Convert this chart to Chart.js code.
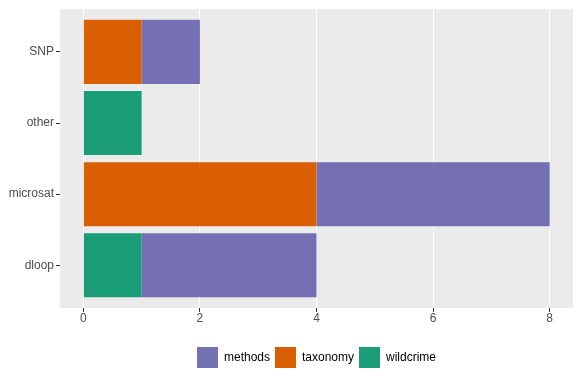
<!DOCTYPE html>
<html>
<head>
<meta charset="utf-8">
<script src="https://cdn.jsdelivr.net/npm/chart.js@4"></script>
<style>
  html, body { margin: 0; padding: 0; background: #ffffff; }
  #wrap { width: 580px; height: 384px; }
</style>
</head>
<body>
<div id="wrap"><canvas id="chart"></canvas></div>
<script>
// categories bottom to top (y = 1..4)
const categories = ["dloop", "microsat", "other", "SNP"];
const methods = [3, 4, 0, 1];
const taxonomy = [0, 4, 0, 1];
const wildcrime = [1, 0, 1, 0];
const xTicks = [0, 2, 4, 6, 8];

const toPoints = (arr) => arr.map((v, i) => ({ x: v, y: i + 1 }));

// grey panel like ggplot
const panelBg = {
  id: "panelBg",
  beforeDraw(chart) {
    const { ctx, chartArea: a } = chart;
    ctx.save();
    ctx.fillStyle = "#EBEBEB";
    ctx.fillRect(a.left, a.top, a.right - a.left, a.bottom - a.top);
    ctx.restore();
  }
};

new Chart(document.getElementById("chart"), {
  type: "bar",
  data: {
    datasets: [
      { label: "wildcrime", data: toPoints(wildcrime), backgroundColor: "#1B9E77" },
      { label: "taxonomy", data: toPoints(taxonomy), backgroundColor: "#D95F02" },
      { label: "methods", data: toPoints(methods), backgroundColor: "#7570B3" }
    ]
  },
  options: {
    indexAxis: "y",
    responsive: true,
    maintainAspectRatio: false,
    animation: false,
    categoryPercentage: 0.9,
    barPercentage: 1,
    layout: { padding: { top: 7, right: 7, bottom: 6, left: 0 } },
    plugins: {
      tooltip: { enabled: false },
      legend: {
        position: "bottom",
        fullSize: false,
        reverse: true,
        labels: {
          boxWidth: 21,
          boxHeight: 21,
          padding: 5,
          color: "#000000",
          font: { family: "Liberation Sans, Arial, sans-serif", size: 12 }
        }
      }
    },
    scales: {
      x: {
        type: "linear",
        stacked: true,
        min: -0.4,
        max: 8.4,
        afterBuildTicks: (s) => { s.ticks = xTicks.map((v) => ({ value: v })); },
        afterFit: (s) => { s.height = 34; },
        border: { display: false },
        grid: { color: "#FFFFFF", lineWidth: 1, tickColor: "#333333", tickLength: 4 },
        ticks: {
          padding: -1,
          color: "#4D4D4D",
          font: { family: "Liberation Sans, Arial, sans-serif", size: 12 }
        }
      },
      y: {
        type: "linear",
        stacked: true,
        offset: false,
        min: 0.4,
        max: 4.6,
        afterBuildTicks: (s) => { s.ticks = categories.map((c, i) => ({ value: i + 1 })); },
        afterFit: (s) => { s.width = 60; },
        border: { display: false },
        grid: { offset: false, color: "rgba(0,0,0,0)", tickColor: "#333333", tickLength: 4 },
        ticks: {
          padding: 2,
          color: "#4D4D4D",
          font: { family: "Liberation Sans, Arial, sans-serif", size: 12 },
          callback: (v) => categories[v - 1]
        }
      }
    }
  },
  plugins: [panelBg]
});
</script>
</body>
</html>
